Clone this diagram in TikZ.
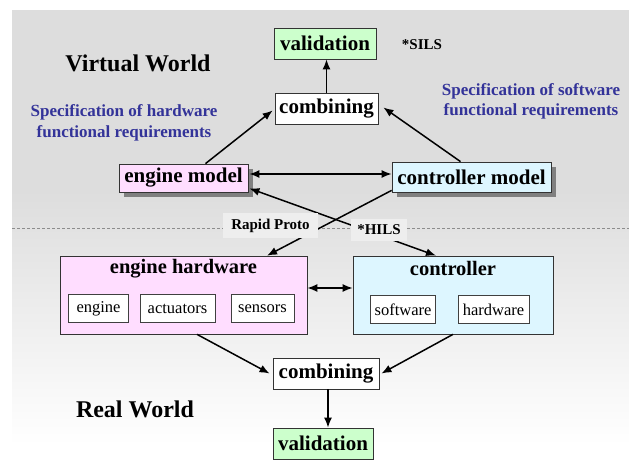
\documentclass[tikz,border=0pt]{standalone}
\usepackage{fontspec}
\setmainfont{Liberation Serif}
\usetikzlibrary{arrows.meta,shadows,calc}
\definecolor{bgray}{HTML}{DDDDDD}
\definecolor{pinkf}{HTML}{FFDDFF}
\definecolor{cyanf}{HTML}{DDF6FF}
\definecolor{greenf}{HTML}{CCFFCC}
\definecolor{specblue}{HTML}{333399}
\definecolor{lblbg}{HTML}{EEEEEE}
\begin{document}
\begin{tikzpicture}[x=1pt,y=-1pt,
  box/.style={draw=black!80, line width=0.8pt, inner sep=0pt, font=\fontsize{21}{24}\selectfont\bfseries},
  shad/.style={general shadow={fill=black!50, shadow xshift=5pt, shadow yshift=-5pt}},
  smallbox/.style={draw=black!75, line width=0.7pt, fill=white, inner sep=0pt, minimum height=28pt, font=\fontsize{16.5}{19}\selectfont},
  lbl/.style={fill=lblbg, inner sep=0pt, font=\fontsize{15}{18}\selectfont\bfseries},
  arr/.style={-{Latex[length=10pt,width=8pt]}, line width=1.5pt},
  darr/.style={{Latex[length=10pt,width=8pt]}-{Latex[length=10pt,width=8pt]}, line width=1.5pt},
  world/.style={font=\fontsize{24}{28}\selectfont\bfseries},
  spec/.style={text=specblue, align=center, font=\fontsize{17}{20.5}\selectfont\bfseries},
  title/.style={font=\fontsize{20.5}{24}\selectfont\bfseries}
]
\useasboundingbox (0,0) rectangle (629,460);
\fill[white] (0,0) rectangle (629,460);
\fill[bgray] (12,10) rectangle (629,190);
\shade[top color=bgray, bottom color=white] (12,190) rectangle (629,445);
\fill[white] (12,445) rectangle (629,460);
\draw[black!45, line width=0.5pt, dash pattern=on 3pt off 2pt] (12,228) -- (629,228);

% virtual world
\node[box, fill=greenf, minimum width=102pt, minimum height=31pt] (valT) at (325,43.5) {validation};
\node[lbl, fill=none] (sils) at (422,45) {*SILS};
\node[world] (vw) at (138,63) {Virtual World};
\node[box, fill=white, minimum width=103pt, minimum height=31pt] (combT) at (326.5,108.5) {combining};
\node[spec] (spechw) at (124,123) {Specification of hardware\\functional requirements};
\node[spec] (specsw) at (531,101.5) {Specification of software\\functional requirements};
\node[box, shad, fill=pinkf, minimum width=129pt, minimum height=28pt] (em) at (183.5,178) {engine model};
\node[box, shad, fill=cyanf, minimum width=159pt, minimum height=30pt] (cm) at (471.5,177) {controller model};

% real world
\node[box, fill=pinkf, line width=0.7pt, minimum width=247pt, minimum height=78pt] (eh) at (183.5,295) {};
\node[title] (ehT) at (183.5,268.5) {engine hardware};
\node[smallbox, minimum width=60pt] (eng) at (98.5,308.5) {engine};
\node[smallbox, minimum width=75pt] (act) at (177.5,308.5) {actuators};
\node[smallbox, minimum width=63pt] (sen) at (262.5,308.5) {sensors};
\node[box, fill=cyanf, line width=0.7pt, minimum width=200pt, minimum height=78pt] (ctl) at (453,295) {};
\node[title] (ctlT) at (453,268.5) {controller};
\node[smallbox, minimum width=65pt] (sw) at (403,309.5) {software};
\node[smallbox, minimum width=71pt] (hw) at (493.5,309.5) {hardware};
\node[box, fill=white, minimum width=106pt, minimum height=31pt] (combB) at (326,373.5) {combining};
\node[world] (rw) at (135,409) {Real World};
\node[box, fill=greenf, minimum width=100pt, minimum height=31pt] (valB) at (323,443.5) {validation};

% connectors
\draw[arr] (combT.north) -- (combT.north |- valT.south);
\draw[arr] ([xshift=22pt]em.north) -- ([yshift=-2pt,xshift=-2pt]combT.west);
\draw[arr] ([xshift=-11pt]cm.north) -- ([xshift=5pt,yshift=1pt]combT.east);
\draw[darr] ([yshift=4pt,xshift=1pt]em.east) -- ([yshift=3pt]cm.west);
\draw[arr] ([yshift=2pt]cm.south west) -- ([xshift=83.5pt]eh.north);
\draw[darr] ([yshift=4pt,xshift=1pt]em.south east) -- ([xshift=-17pt]ctl.north);
\node[lbl, minimum width=95pt, minimum height=25pt] (rp) at (270.5,225.5) {Rapid Proto};
\node[lbl, minimum width=56pt, minimum height=22pt] (hils) at (379,230) {*HILS};
\draw[darr] ([yshift=7pt]eh.east) -- ([yshift=7pt]ctl.west);
\draw[arr] ([xshift=13.5pt]eh.south) -- ([xshift=-3pt]combB.west);
\draw[arr] (ctl.south) -- ([xshift=2pt]combB.east);
\draw[arr] ([xshift=2pt]combB.south) -- ([xshift=2pt]combB.south |- valB.north);
\end{tikzpicture}
\end{document}
